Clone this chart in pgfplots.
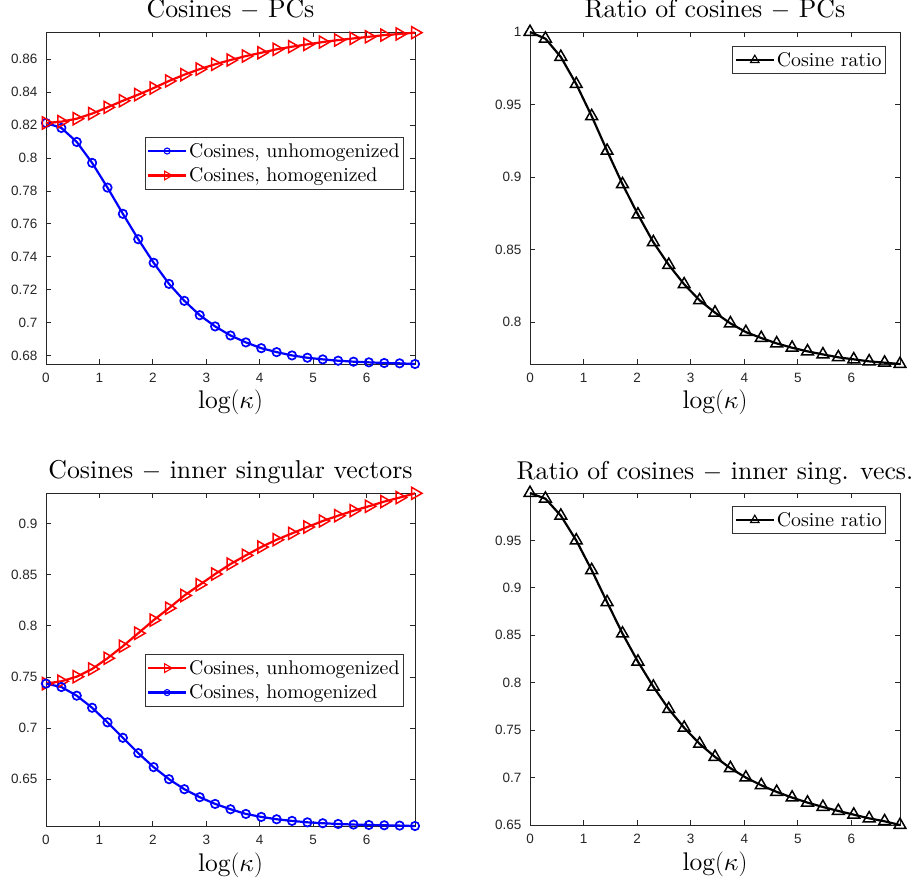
\documentclass[border=0pt]{standalone}
\usepackage{fontspec}
\setmainfont{lmroman10-regular}[Extension=.otf, ItalicFont=lmroman10-italic]
\DeclareFontShape{OML}{cmm}{m}{it}{<->cmmi10}{}
\usepackage{pgfplots}
\pgfplotsset{compat=1.18}
\usepackage{pgfplotstable}
\newfontfamily\helv{Liberation Sans}

% x = k*log(1000)/24, k=0..24
% pcu/pch: PCs unhom./hom., pcr: ratio; isu/ish: inner sing. vecs, isr: ratio
\pgfplotstableread{
x      pcu    pch    pcr    isu    ish    isr
0.0000 0.8212 0.8212 1.0000 0.7435 0.7435 1.0000
0.2878 0.8182 0.8220 0.9954 0.7458 0.7402 0.9940
0.5756 0.8097 0.8238 0.9828 0.7503 0.7317 0.9761
0.8635 0.7970 0.8269 0.9641 0.7578 0.7199 0.9500
1.1513 0.7820 0.8307 0.9420 0.7683 0.7056 0.9187
1.4391 0.7661 0.8347 0.9181 0.7801 0.6905 0.8849
1.7269 0.7507 0.8384 0.8951 0.7928 0.6755 0.8518
2.0148 0.7364 0.8424 0.8742 0.8056 0.6618 0.8222
2.3026 0.7236 0.8467 0.8551 0.8173 0.6500 0.7958
2.5904 0.7133 0.8505 0.8395 0.8297 0.6402 0.7722
2.8782 0.7046 0.8539 0.8261 0.8402 0.6324 0.7525
3.1661 0.6978 0.8568 0.8151 0.8507 0.6258 0.7356
3.4539 0.6923 0.8594 0.8066 0.8605 0.6206 0.7218
3.7417 0.6881 0.8618 0.7992 0.8690 0.6160 0.7099
4.0295 0.6846 0.8638 0.7932 0.8771 0.6131 0.7000
4.3174 0.6822 0.8659 0.7891 0.8843 0.6108 0.6919
4.6052 0.6802 0.8675 0.7854 0.8905 0.6092 0.6849
4.8930 0.6788 0.8689 0.7824 0.8967 0.6078 0.6789
5.1808 0.6778 0.8703 0.7799 0.9026 0.6069 0.6736
5.4687 0.6770 0.8715 0.7778 0.9078 0.6062 0.6690
5.7565 0.6764 0.8725 0.7758 0.9127 0.6056 0.6648
6.0443 0.6760 0.8735 0.7744 0.9170 0.6052 0.6609
6.3321 0.6756 0.8745 0.7730 0.9216 0.6049 0.6570
6.6200 0.6754 0.8752 0.7721 0.9255 0.6046 0.6539
6.9078 0.6750 0.8760 0.7712 0.9297 0.6042 0.6500
}\data

\definecolor{axgray}{gray}{0.15}

\pgfplotsset{
  every axis title shift=0pt,
  mat/.style={
    scale only axis, width=369pt, height=332pt,
    xmin=0, xmax=6.9078, xtick={0,1,2,3,4,5,6},
    clip=false,
    tick align=inside, major tick length=5pt,
    axis line style={draw=axgray, line width=0.8pt},
    every tick/.style={draw=axgray, line width=0.8pt},
    tick label style={font=\fontsize{13.5}{13.5}\helv, text=axgray},
    /pgf/number format/assume math mode=true,
    xticklabel style={yshift=-6pt},
    yticklabel style={xshift=-5pt},
    xlabel={$\log(\kappa)$},
    xlabel style={font=\fontsize{25.5}{25.5}\selectfont, at={(0.5,0)}, anchor=base, yshift=-45pt},
    title style={font=\fontsize{25.8}{25.8}\selectfont, at={(0.5,1)}, anchor=base, yshift=14pt},
    legend style={font=\fontsize{19.8}{22}\selectfont, draw=black!80, line width=0.8pt,
      inner xsep=2pt, inner ysep=4pt, row sep=5pt},
    legend cell align=left,
    legend image code/.code={
      \draw[mark repeat=2, mark phase=2, #1, mark size=0.72\pgfplotmarksize,
            every mark/.append style={line width=1.1pt}]
        plot coordinates {(0pt,0pt) (19pt,0pt) (38pt,0pt)};},
  },
  bl/.style={blue, line width=2.2pt, mark=o, mark size=4.2pt, mark options={line width=1.7pt}},
  rd/.style={red, line width=2.2pt, mark=triangle, mark size=7pt, mark options={rotate=-90, line width=1.5pt}},
  bk/.style={black, line width=2.2pt, mark=triangle, mark size=6.8pt, mark options={line width=1.5pt}},
}

\begin{document}
\begin{tikzpicture}
\useasboundingbox (0pt,0pt) rectangle (915pt,884pt);

\begin{axis}[mat, at={(46pt,520pt)}, anchor=south west,
  ymin=0.6750, ymax=0.8764,
  ytick={0.68,0.70,0.72,0.74,0.76,0.78,0.80,0.82,0.84,0.86},
  yticklabels={0.68,0.7,0.72,0.74,0.76,0.78,0.8,0.82,0.84,0.86},
  title={Cosines $-$ PCs},
  legend style={at={(0.970,0.684)}, anchor=north east}]
\addplot[bl] table[x=x, y=pcu] {\data};
\addplot[rd] table[x=x, y=pch] {\data};
\legend{{Cosines, unhomogenized},{Cosines, homogenized}}
\end{axis}

\begin{axis}[mat, at={(530pt,520pt)}, anchor=south west, width=370pt,
  ymin=0.7712, ymax=1.0,
  ytick={0.8,0.85,0.9,0.95,1}, yticklabels={0.8,0.85,0.9,0.95,1},
  title={Ratio of cosines $-$ PCs},
  legend style={at={(0.962,0.958)}, anchor=north east}]
\addplot[bk] table[x=x, y=pcr] {\data};
\legend{Cosine ratio}
\end{axis}

\begin{axis}[mat, at={(46pt,58pt)}, anchor=south west, height=333pt,
  ymin=0.6042, ymax=0.9300,
  ytick={0.65,0.7,0.75,0.8,0.85,0.9}, yticklabels={0.65,0.7,0.75,0.8,0.85,0.9},
  title={Cosines $-$ inner singular vectors},
  legend style={at={(0.970,0.5165)}, anchor=north east}]
\addplot[rd] table[x=x, y=isu] {\data};
\addplot[bl] table[x=x, y=ish] {\data};
\legend{{Cosines, unhomogenized},{Cosines, homogenized}}
\end{axis}

\begin{axis}[mat, at={(530pt,59pt)}, anchor=south west, width=370pt,
  ymin=0.65, ymax=1.0,
  ytick={0.65,0.7,0.75,0.8,0.85,0.9,0.95}, yticklabels={0.65,0.7,0.75,0.8,0.85,0.9,0.95},
  title={Ratio of cosines $-$ inner sing. vecs.},
  legend style={at={(0.962,0.961)}, anchor=north east}]
\addplot[bk] table[x=x, y=isr] {\data};
\legend{Cosine ratio}
\end{axis}
\end{tikzpicture}
\end{document}
